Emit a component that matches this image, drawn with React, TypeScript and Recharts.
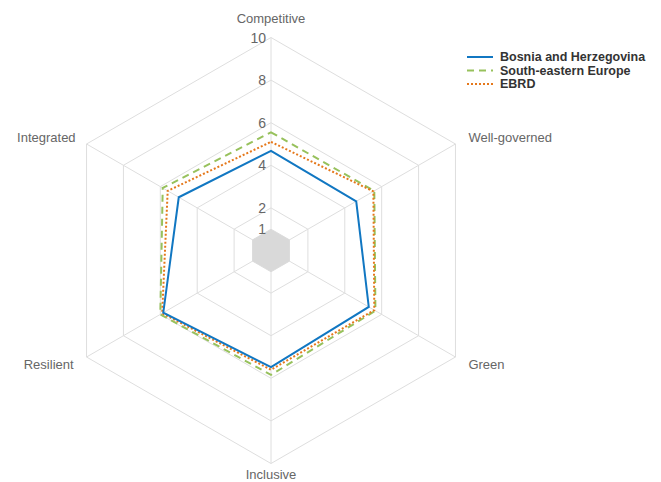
import { PolarAngleAxis, PolarGrid, PolarRadiusAxis, Radar, RadarChart } from "recharts";

const categories = ["Competitive", "Well-governed", "Green", "Inclusive", "Resilient", "Integrated"];
const bosnia = [4.68, 4.62, 5.3, 5.48, 5.84, 5.0];
const southEast = [5.55, 5.6, 5.66, 5.84, 6.0, 5.87];
const ebrd = [5.1, 5.55, 5.6, 5.6, 5.9, 5.6];
const floor = [1, 1, 1, 1, 1, 1];
const radiusTicks = [1, 2, 4, 6, 8, 10];

const data = categories.map((name, i) => ({
  name,
  bosnia: bosnia[i],
  see: southEast[i],
  ebrd: ebrd[i],
  floor: floor[i],
}));

const FONT = "'Liberation Sans', Arial, sans-serif";
const TEXT = "#666666";

// nudge for each category label, relative to the tick point Recharts gives
const LABEL_NUDGE: Record<string, { dx: number; dy: number; anchor: "start" | "middle" | "end" }> = {
  Competitive: { dx: 0, dy: -11, anchor: "middle" },
  "Well-governed": { dx: 6, dy: -3, anchor: "start" },
  Green: { dx: 6, dy: 3, anchor: "start" },
  Inclusive: { dx: 0, dy: 3, anchor: "middle" },
  Resilient: { dx: -6, dy: 3, anchor: "end" },
  Integrated: { dx: -4, dy: -3, anchor: "end" },
};

function AngleTick(props: any) {
  const { x, y, payload } = props;
  const n = LABEL_NUDGE[payload.value] ?? { dx: 0, dy: 0, anchor: "middle" };
  return (
    <text
      x={x + n.dx}
      y={y + n.dy}
      textAnchor={n.anchor}
      dominantBaseline="central"
      fontFamily={FONT}
      fontSize={13}
      fill={TEXT}
    >
      {payload.value}
    </text>
  );
}

function RadiusTick(props: any) {
  const { x, y, payload } = props;
  return (
    <text x={x - 5} y={y} textAnchor="end" dominantBaseline="central" fontFamily={FONT} fontSize={14} fill={TEXT}>
      {payload.value}
    </text>
  );
}

const legendItems = [
  { label: "Bosnia and Herzegovina", color: "#1177c2", dash: undefined },
  { label: "South-eastern Europe", color: "#97c15c", dash: "7 5" },
  { label: "EBRD", color: "#e5781b", dash: "2 2" },
];

function Legend() {
  return (
    <svg style={{ position: "absolute", left: 460, top: 48 }} width={201} height={45}>
      {legendItems.map((item, i) => (
        <g key={item.label}>
          <line
            x1={7}
            x2={33}
            y1={9 + i * 13.5}
            y2={9 + i * 13.5}
            stroke={item.color}
            strokeWidth={2}
            strokeDasharray={item.dash}
          />
          <text
            x={40}
            y={9 + i * 13.5}
            dominantBaseline="central"
            fontFamily={FONT}
            fontWeight="bold"
            fontSize={12.5}
            fill="#333333"
          >
            {item.label}
          </text>
        </g>
      ))}
    </svg>
  );
}

export default function App() {
  return (
    <div style={{ position: "absolute", left: 0, top: 0, width: 661, height: 482, background: "#fff" }}>
      <RadarChart width={661} height={482} data={data} cx={271} cy={250.5} outerRadius={213} margin={{ top: 0, right: 0, bottom: 0, left: 0 }}>
        <PolarGrid stroke="#dedede" strokeWidth={1} />
        <PolarAngleAxis dataKey="name" tick={<AngleTick />} tickLine={false} axisLine={false} />
        <PolarRadiusAxis
          angle={90}
          domain={[0, 10]}
          ticks={radiusTicks}
          tick={<RadiusTick />}
          axisLine={false}
          tickLine={false}
        />
        <Radar dataKey="floor" stroke="none" fill="#d9d9d9" fillOpacity={1} legendType="none" isAnimationActive={false} />
        <Radar dataKey="see" stroke="#97c15c" strokeWidth={2} strokeDasharray="7 5" fill="none" isAnimationActive={false} />
        <Radar dataKey="ebrd" stroke="#e5781b" strokeWidth={2} strokeDasharray="2 2" fill="none" isAnimationActive={false} />
        <Radar dataKey="bosnia" stroke="#1177c2" strokeWidth={2} fill="none" isAnimationActive={false} />
      </RadarChart>
      <Legend />
    </div>
  );
}
